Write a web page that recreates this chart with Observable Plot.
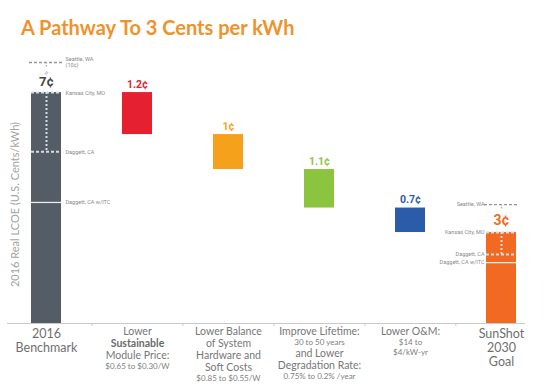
<!DOCTYPE html>
<html><head><meta charset="utf-8">
<script src="https://cdn.jsdelivr.net/npm/d3@7"></script>
<script src="https://cdn.jsdelivr.net/npm/@observablehq/plot@0.6"></script>
<style>
body{margin:0;background:#fff;width:550px;height:388px;overflow:hidden;font-family:Lato,sans-serif}
#title{height:48px;box-sizing:border-box;padding:17px 0 0 21px;font:bold 20px/20px Lato,sans-serif;color:#F0922B;white-space:nowrap}
#chart svg{display:block}
</style></head><body>
<div id="title">A Pathway To 3 Cents per kWh</div>
<div id="chart"></div>
<script>
// ---- data ----
const categories = ["2016 Benchmark","Module Price","BOS & Soft Costs","Lifetime & Degradation","O&M","SunShot 2030 Goal"];
const steps = [7, 1.2, 1, 1.1, 0.7, 3];          // cents/kWh (first and last are totals, others reductions)
const axisFloor = 0.4;                            // value where the chart's baseline is drawn
const yTop = 8.26;
const categoryLines = [
  ["2016","Benchmark"],
  ["Lower","Sustainable","Module Price:","$0.65 to $0.30/W"],
  ["Lower Balance","of System","Hardware and","Soft Costs","$0.85 to $0.55/W"],
  ["Improve Lifetime:","30 to 50 years","and Lower","Degradation Rate:","0.75% to 0.2% /year"],
  ["Lower O&M:","$14 to","$4/kW-yr"],
  ["SunShot","2030","Goal"]
];
const refNames = ["Seattle, WA","Kansas City, MO","Daggett, CA","Daggett, CA w/ITC"];
const benchmarkRefs = [7.86, 7, 5.31, 3.86];     // Seattle (10¢) drawn above a scale break
const goalRefs = [3.8, 3, 2.37, 2.14];
const seattleNote = "(10¢)";
const yLabel = "2016 Real LCOE (U.S. Cents/kWh)";

// ---- styles ----
const barColors = ["#545D66","#E5202F","#F6A11C","#8BC53F","#2A5CAA","#F26A21"];
const labelColors = ["#454545","#E5202F","#F6A11C","#8BC53F","#2A5CAA","#F26A21"];

// ---- derived ----
let running = steps[0];
const bars = steps.map((v, i) => {
  if (i === 0 || i === steps.length - 1) return {cat: categories[i], y1: 0, y2: v, v, i};
  const b = {cat: categories[i], y1: running - v, y2: running, v, i};
  running -= v;
  return b;
});
const refs = [];
refNames.forEach((n, j) => {
  refs.push({cat: categories[0], name: j === 0 ? n + "\n" + seattleNote : n, y: benchmarkRefs[j], j, side: "right"});
  refs.push({cat: categories[5], name: n, y: goalRefs[j], j, side: "left"});
});
const H = 340, MB = 65;
const k = (H - MB) / (yTop - axisFloor);
const lines = [];
categoryLines.forEach((ls, ci) => {
  const big = ci === 0 || ci === 5;
  let pos = big ? 10 : 8, prevH = null;
  ls.forEach((t) => {
    const kind = big ? "big" : (t === "Sustainable" ? "bold" : (/^[\$\d]/.test(t) ? "small" : "main"));
    const h = kind === "big" ? 14 : kind === "small" ? 10 : 12;
    if (prevH !== null) pos += (prevH + h) / 2;
    prevH = h;
    lines.push({cat: categories[ci], text: t, kind, y: axisFloor - pos / k});
  });
});

const fontBold = "Roboto, sans-serif";
const ends = categories.filter((c, i) => i === 0 || i === 5);
const refFor = c => c === categories[0] ? benchmarkRefs : goalRefs;
const chart = Plot.plot({
  width: 550, height: H,
  marginTop: 0, marginBottom: MB, marginLeft: 0, marginRight: 3,
  x: {domain: categories, range: [0, 547], paddingInner: 0.67, paddingOuter: 0.335, axis: null},
  y: {domain: [axisFloor, yTop], range: [H - MB, 0], axis: null},
  color: {type: "identity"},
  style: {fontFamily: "Lato, sans-serif", background: "white"},
  marks: [
    Plot.barY(bars, {x: "cat", y1: "y1", y2: "y2", fill: d => barColors[d.i], clip: true}),
    // axis baseline and small ticks
    Plot.ruleY([axisFloor], {stroke: "#c9c9c9", strokeWidth: 1, insetLeft: 7, insetRight: 22}),
    Plot.ruleX(categories.slice(1), {x: d => d, dx: -45.6, y1: axisFloor, y2: axisFloor - 3 / k, stroke: "#c9c9c9"}),
    // reference lines (span the bar's band)
    Plot.tickY(refs.filter(d => d.j === 3), {x: "cat", y: "y", stroke: "#ececec", strokeWidth: 1.3}),
    Plot.tickY(refs.filter(d => d.j === 1 || d.j === 2), {x: "cat", y: "y", stroke: "#d5dbe1", strokeWidth: 2, strokeDasharray: "3,2"}),
    Plot.tickY(refs.filter(d => d.j === 0), {x: "cat", y: "y", stroke: "#959595", strokeWidth: 1.3, strokeDasharray: "3,2", insetLeft: -2, insetRight: -1}),
    // vertical dotted lines
    Plot.ruleX(ends, {x: d => d, y1: d => refFor(d)[1], y2: d => refFor(d)[2],
      stroke: "#d5dbe1", strokeWidth: 2, strokeDasharray: "2,2"}),
    Plot.ruleX(ends, {x: d => d, y1: d => refFor(d)[0], y2: d => refFor(d)[0] - 0.14,
      stroke: "#a8a8a8", strokeWidth: 1.2, strokeDasharray: "1.5,1.5"}),
    Plot.text([categories[0]], {x: d => d, y: benchmarkRefs[0] - 0.3, text: () => "≈", rotate: -60, fontSize: 9, fill: "#a8a8a8"}),
    // reference labels
    Plot.text(refs.filter(d => d.side === "right"), {x: "cat", y: "y", text: "name", dx: 19, textAnchor: "start", fontSize: 5.5, fill: "#8a8a8a", lineHeight: 1.1, fontFamily: fontBold}),
    Plot.text(refs.filter(d => d.side === "left"), {x: "cat", y: "y", text: "name", dx: -17, textAnchor: "end", fontSize: 5.5, fill: "#8a8a8a", fontFamily: fontBold}),
    // value labels
    Plot.text(bars.filter(d => d.i > 0 && d.i < 5), {x: "cat", y: "y2", text: d => `${d.v}¢`, dy: -8, fontSize: 10.5, fontWeight: "bold", fill: d => labelColors[d.i], fontFamily: fontBold}),
    Plot.text(bars.filter(d => d.i === 0), {x: "cat", y: "y2", text: d => `${d.v}¢`, dy: -11, fontSize: 13, fontWeight: "bold", fill: d => labelColors[d.i], fontFamily: fontBold}),
    Plot.text(bars.filter(d => d.i === 5), {x: "cat", y: "y2", text: d => `${d.v}¢`, dy: -12, fontSize: 14, fontWeight: "bold", fill: d => labelColors[d.i], fontFamily: fontBold}),
    // category labels
    Plot.text(lines.filter(d => d.kind === "big"), {x: "cat", y: "y", text: "text", fontSize: 12.5, fill: "#6f6f6f"}),
    Plot.text(lines.filter(d => d.kind === "main"), {x: "cat", y: "y", text: "text", fontSize: 10.5, fill: "#777"}),
    Plot.text(lines.filter(d => d.kind === "bold"), {x: "cat", y: "y", text: "text", fontSize: 10.5, fontWeight: "bold", fill: "#6a6a6a"}),
    Plot.text(lines.filter(d => d.kind === "small"), {x: "cat", y: "y", text: "text", fontSize: 8, fill: "#808080"}),
    // y label
    Plot.text([yLabel], {frameAnchor: "left", y: 3.8, dx: 15, rotate: -90, textAnchor: "middle", text: d => d, fontSize: 11, fill: "#a3a3a3"})
  ]
});
document.getElementById("chart").appendChild(chart);
</script>
</body></html>
